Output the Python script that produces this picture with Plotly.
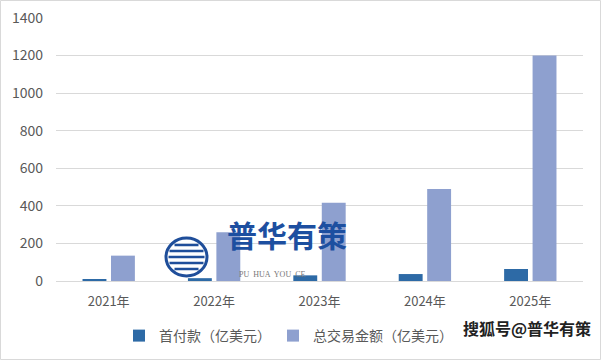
import plotly.graph_objects as go

categories = ["2021年", "2022年", "2023年", "2024年", "2025年"]
down_payment = [9, 15, 30, 37, 64]
total_deal = [135, 260, 417, 490, 1200]
series_names = ["首付款（亿美元）", "总交易金额（亿美元）"]
y_ticks = [0, 200, 400, 600, 800, 1000, 1200, 1400]

FONT = "Noto Sans CJK SC, Liberation Sans, sans-serif"
PW, PH = 527, 263  # plot area size in px

def px(x):
    return (x - 56) / PW

def py(y):
    return (281 - y) / PH

fig = go.Figure()
fig.add_trace(go.Bar(x=categories, y=down_payment, name=series_names[0],
                     marker=dict(color="#2d6aa6", line=dict(width=0)), legend="legend"))
fig.add_trace(go.Bar(x=categories, y=total_deal, name=series_names[1],
                     marker=dict(color="#8ea0cf", line=dict(width=0)), legend="legend2"))

legend_common = dict(orientation="h", xanchor="left", yanchor="middle",
                     font=dict(size=14, color="#595959"), itemwidth=30,
                     bgcolor="rgba(0,0,0,0)")

fig.update_layout(
    width=601, height=361,
    margin=dict(l=56, r=18, t=18, b=80, autoexpand=False),
    paper_bgcolor="white", plot_bgcolor="white",
    barmode="group", bargap=0.46, bargroupgap=0.16,
    font=dict(family=FONT, size=13, color="#595959"),
    showlegend=True,
    legend=dict(x=px(119), y=py(336), **legend_common),
    legend2=dict(x=px(273), y=py(336), **legend_common),
    xaxis=dict(showgrid=False, showline=True, linecolor="#d9d9d9", linewidth=1,
               ticks="", tickfont=dict(size=13, color="#595959"), ticklabelstandoff=8,
               automargin=False),
    yaxis=dict(range=[0, 1400], tickvals=y_ticks, showgrid=True, gridcolor="#d9d9d9",
               gridwidth=1, zeroline=False, showline=False, ticks="",
               tickfont=dict(size=14, color="#595959"), ticklabelstandoff=12,
               automargin=False),
)

# chart border
fig.add_shape(type="rect", xref="paper", yref="paper", x0=px(0.5), x1=px(600.5),
              y0=py(359.5), y1=py(0.5), line=dict(color="#d9d9d9", width=1))

# watermark logo (circle with stripes)
fig.add_shape(type="circle", xref="paper", yref="paper",
              x0=px(166), x1=px(207), y0=py(276), y1=py(238),
              line=dict(color="#1f4e9a", width=3), fillcolor="rgba(255,255,255,0.6)")
for yy, half in [(245, 12), (251, 17), (257, 18), (263, 17), (269, 12)]:
    fig.add_shape(type="line", xref="paper", yref="paper",
                  x0=px(186.5 - half), x1=px(186.5 + half), y0=py(yy), y1=py(yy),
                  line=dict(color="#1f4e9a", width=2.5))
fig.add_annotation(text="<b>普华有策</b>", xref="paper", yref="paper",
                   x=px(287), y=py(258), showarrow=False,
                   font=dict(family=FONT, size=30, color="#1d4fa0"))
fig.add_annotation(text="PU  HUA  YOU  CE", xref="paper", yref="paper",
                   x=px(272), y=py(281), showarrow=False,
                   font=dict(family="Liberation Serif", size=8, color="#777777"))
fig.add_annotation(text="<b>搜狐号@普华有策</b>", xref="paper", yref="paper",
                   x=px(461), xanchor="left", y=py(342), showarrow=False,
                   font=dict(family=FONT, size=16, color="#222222"))

fig.write_html("out.html", post_script="document.body.style.margin='0px';",
               config={"displayModeBar": False})
